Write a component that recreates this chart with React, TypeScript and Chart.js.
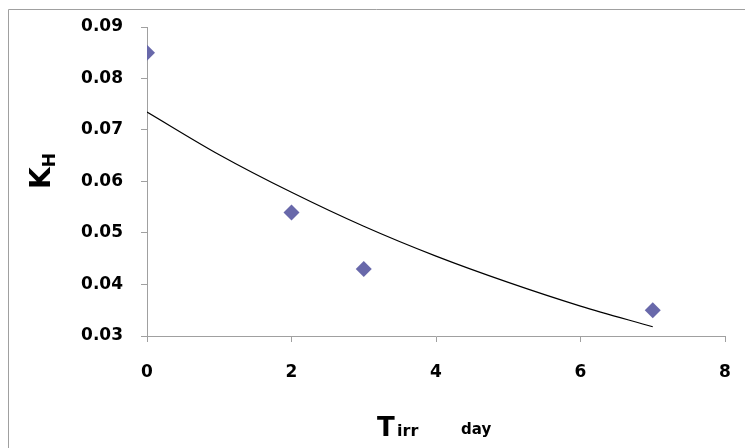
import React, { useEffect, useRef } from "react";
import { Chart, registerables } from "chart.js";

Chart.register(...registerables);

const measuredX: number[] = [0, 2, 3, 7];
const measuredKH: number[] = [0.085, 0.054, 0.043, 0.035];

const trendX: number[] = [0, 1, 2, 3, 4, 5, 6, 7];
const trendKH: number[] = [0.0735, 0.0652, 0.0579, 0.0513, 0.0455, 0.0404, 0.0358, 0.0318];

const xTickValues: number[] = [0, 2, 4, 6, 8];
const yTickValues: number[] = [0.03, 0.04, 0.05, 0.06, 0.07, 0.08, 0.09];

const FONT = "'DejaVu Sans', sans-serif";
const AXIS_GRAY = "#a0a0a0";

const decorPlugin = {
  id: "decor",
  beforeDraw(chart: any) {
    const ctx = chart.ctx;
    ctx.save();
    ctx.fillStyle = "#ffffff";
    ctx.fillRect(0, 0, chart.width, chart.height);
    ctx.strokeStyle = AXIS_GRAY;
    ctx.lineWidth = 1;
    ctx.beginPath();
    ctx.moveTo(8.5, chart.height);
    ctx.lineTo(8.5, 9.5);
    ctx.lineTo(chart.width, 9.5);
    ctx.stroke();
    ctx.restore();
  },
  afterDraw(chart: any) {
    const ctx = chart.ctx;
    ctx.save();
    ctx.fillStyle = "#000000";
    ctx.textBaseline = "alphabetic";
    ctx.textAlign = "left";
    // Y title K_H, rotated
    ctx.save();
    ctx.translate(50, 189);
    ctx.rotate(-Math.PI / 2);
    ctx.font = `bold 28px ${FONT}`;
    ctx.fillText("K", 0, 0);
    const kw = ctx.measureText("K").width;
    ctx.font = `bold 17px ${FONT}`;
    ctx.fillText("H", kw, 5);
    ctx.restore();
    // X title T irr  day
    ctx.font = `bold 26px ${FONT}`;
    ctx.fillText("T", 377, 436);
    ctx.font = `bold 16px ${FONT}`;
    ctx.fillText("irr", 397, 436);
    ctx.font = `bold 15px ${FONT}`;
    ctx.fillText("day", 461, 434);
    ctx.restore();
  },
};

export default function App() {
  const ref = useRef<HTMLCanvasElement | null>(null);
  useEffect(() => {
    document.body.style.margin = "0";
    const canvas = ref.current;
    if (!canvas) return;
    const chart = new Chart(canvas, {
      type: "scatter",
      data: {
        datasets: [
          {
            label: "Trend",
            data: trendX.map((x, i) => ({ x, y: trendKH[i] })),
            showLine: true,
            borderColor: "#000000",
            borderWidth: 1.2,
            pointRadius: 0,
            cubicInterpolationMode: "monotone",
            order: 2,
          } as any,
          {
            label: "KH",
            data: measuredX.map((x, i) => ({ x, y: measuredKH[i] })),
            pointStyle: "rectRot",
            pointRadius: 8,
            backgroundColor: "#6868aa",
            borderColor: "#6868aa",
            borderWidth: 0,
            showLine: false,
            order: 1,
          } as any,
        ],
      },
      options: {
        responsive: false,
        animation: false,
        layout: { autoPadding: false, padding: { top: 27, right: 20, left: 0, bottom: 0 } },
        plugins: {
          legend: { display: false },
          tooltip: { enabled: false },
          title: { display: false },
        },
        scales: {
          x: {
            type: "linear",
            min: 0,
            max: 8,
            afterBuildTicks: (scale: any) => {
              scale.ticks = xTickValues.map((v) => ({ value: v }));
            },
            afterFit: (scale: any) => {
              scale.height = 112;
              scale.paddingLeft = 0;
              scale.paddingRight = 0;
            },
            grid: {
              display: true,
              drawOnChartArea: false,
              drawTicks: true,
              tickLength: 6,
              color: AXIS_GRAY,
            },
            border: { display: true, color: AXIS_GRAY, width: 1 },
            ticks: {
              font: { family: FONT, size: 17, weight: "bold" },
              color: "#000000",
              padding: 20,
              callback: (v: any) => String(v),
            },
          },
          y: {
            type: "linear",
            min: 0.03,
            max: 0.09,
            afterBuildTicks: (scale: any) => {
              scale.ticks = yTickValues.map((v) => ({ value: v }));
            },
            afterFit: (scale: any) => {
              scale.width = 147;
              scale.paddingTop = 0;
              scale.paddingBottom = 0;
            },
            grid: {
              display: true,
              drawOnChartArea: false,
              drawTicks: true,
              tickLength: 6,
              color: AXIS_GRAY,
            },
            border: { display: true, color: AXIS_GRAY, width: 1 },
            ticks: {
              font: { family: FONT, size: 17, weight: "bold" },
              color: "#000000",
              padding: 18,
              callback: (v: any) => Number(v).toFixed(2),
            },
          },
        },
      } as any,
      plugins: [decorPlugin],
    });
    return () => chart.destroy();
  }, []);
  return <canvas ref={ref} width={745} height={448} style={{ display: "block" }} />;
}
